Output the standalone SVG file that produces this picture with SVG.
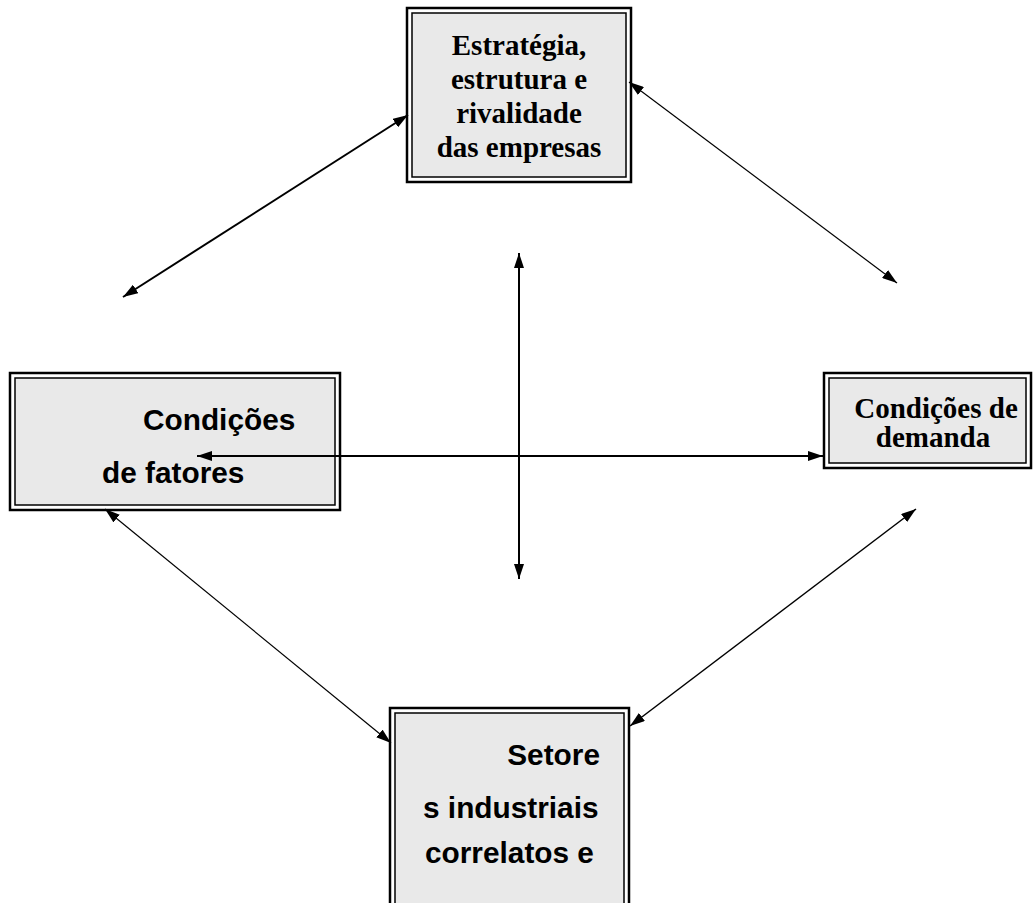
<svg xmlns="http://www.w3.org/2000/svg" width="1034" height="903" viewBox="0 0 1034 903">
<style>
.outer{fill:#ffffff;stroke:#000;stroke-width:2.5}
.inner{fill:#e9e9e9;stroke:#000;stroke-width:1.5}
.serif{font-family:"Liberation Serif","Times New Roman",serif;font-weight:bold;font-size:29px;fill:#000}
.sans{font-family:"Liberation Sans",Arial,sans-serif;font-weight:bold;font-size:29.8px;fill:#000}
.conn{stroke:#000;fill:none;marker-start:url(#ah);marker-end:url(#ah)}
</style>
<defs>
<marker id="ah" viewBox="0 0 15 10" markerWidth="15" markerHeight="10" refX="15" refY="5" orient="auto-start-reverse" markerUnits="userSpaceOnUse">
<path d="M0,0 L15,5 L0,10 z" fill="#000"/>
</marker>
</defs>
<g id="estrategia">
<rect class="outer" x="407" y="8" width="224" height="174"/>
<rect class="inner" x="412" y="13" width="214" height="164"/>
<text class="serif" x="519" y="55" text-anchor="middle">Estratégia,</text>
<text class="serif" x="519" y="89" text-anchor="middle">estrutura e</text>
<text class="serif" x="519" y="123" text-anchor="middle">rivalidade</text>
<text class="serif" x="519" y="157" text-anchor="middle">das empresas</text>
</g>
<g id="fatores">
<rect class="outer" x="10" y="373" width="330" height="137"/>
<rect class="inner" x="15" y="378" width="320" height="127"/>
<text class="sans" x="143" y="430">Condições</text>
<text class="sans" x="102" y="483">de fatores</text>
</g>
<g id="demanda">
<rect class="outer" x="824" y="373" width="207" height="95"/>
<rect class="inner" x="829" y="378" width="197" height="85"/>
<text class="serif" x="936" y="418" text-anchor="middle">Condições de</text>
<text class="serif" x="933" y="447" text-anchor="middle">demanda</text>
</g>
<g id="setores">
<rect class="outer" x="390" y="708" width="239" height="215"/>
<rect class="inner" x="395" y="713" width="229" height="205"/>
<text class="sans" x="600" y="765" text-anchor="end">Setore</text>
<text class="sans" x="423" y="818">s industriais</text>
<text class="sans" x="425" y="863">correlatos e</text>
</g>
<g id="connectors">
<line class="conn" x1="123" y1="297" x2="408" y2="115" stroke-width="2"/>
<line class="conn" x1="629" y1="82" x2="897" y2="283" stroke-width="1.2"/>
<line class="conn" x1="519" y1="253" x2="519" y2="579" stroke-width="2"/>
<line class="conn" x1="197" y1="456" x2="823" y2="456" stroke-width="2"/>
<line class="conn" x1="105" y1="509" x2="391" y2="743" stroke-width="1.2"/>
<line class="conn" x1="630" y1="726" x2="916" y2="509" stroke-width="1.5"/>
</g>
</svg>
